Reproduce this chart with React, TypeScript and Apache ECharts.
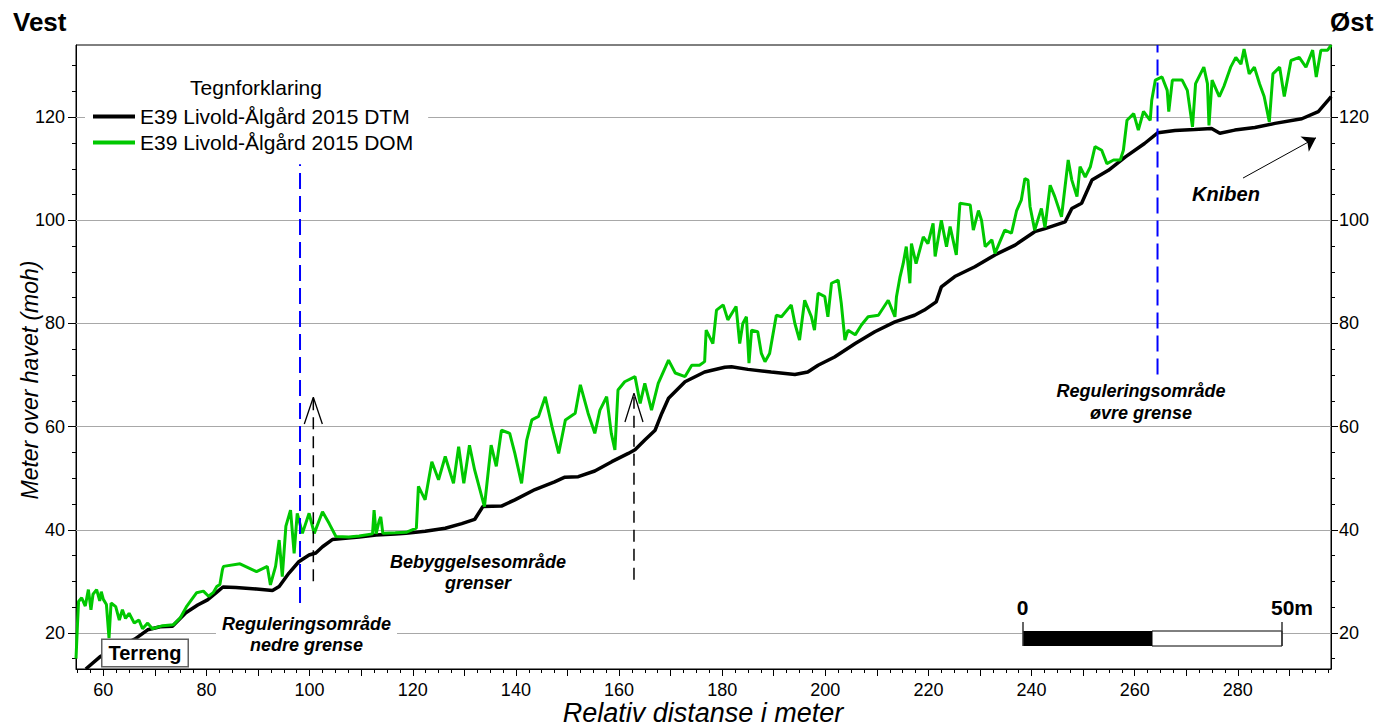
import React, { useEffect, useRef } from "react";
import * as echarts from "echarts";

const FONT = '"Liberation Sans", Arial, Helvetica, sans-serif';

// Axis ranges and ticks
const xMin = 54.7;
const xMax = 298.06;
const yMin = 13;
const yMax = 134;
const xLabelValues = [60, 80, 100, 120, 140, 160, 180, 200, 220, 240, 260, 280];
const xMajorTicks = [60, 70, 80, 90, 100, 110, 120, 130, 140, 150, 160, 170, 180, 190, 200, 210, 220, 230, 240, 250, 260, 270, 280, 290];
const yLabelValues = [20, 40, 60, 80, 100, 120];
const yMinorTicks = [15, 20, 25, 30, 35, 40, 45, 50, 55, 60, 65, 70, 75, 80, 85, 90, 95, 100, 105, 110, 115, 120, 125, 130];
const xMinorTicks: number[] = [];
for (let v = 55; v <= 297.5; v += 2.5) xMinorTicks.push(v);

const dtmName = "E39 Livold-Ålgård 2015 DTM";
const domName = "E39 Livold-Ålgård 2015 DOM";

// Terrain model (DTM): [distance, height]
const dtmData: [number, number][] = [
  [56.6, 13.0], [59.4, 15.4], [62.7, 17.1], [66.1, 18.8], [68.6, 20.6], [71.0, 21.2], [73.4, 21.3],
  [76.0, 23.9], [78.3, 25.4], [80.2, 26.4], [81.9, 27.8], [83.2, 28.9], [85.7, 28.8], [89.7, 28.5],
  [92.8, 28.2], [94.1, 29.0], [96.0, 31.6], [97.9, 33.8], [99.9, 35.1], [101.2, 35.5], [102.5, 36.7],
  [104.4, 38.1], [106.4, 38.3], [109.6, 38.6], [112.9, 39.0], [116.6, 39.2], [118.7, 39.3], [122.4, 39.7],
  [126.3, 40.3], [129.5, 41.2], [132.0, 42.0], [133.6, 44.5], [137.2, 44.6], [139.8, 45.8], [143.7, 47.8],
  [147.5, 49.3], [149.5, 50.2], [152.1, 50.3], [155.3, 51.4], [158.6, 53.2], [161.8, 54.8], [163.1, 55.5],
  [165.0, 57.4], [167.0, 59.3], [168.3, 62.6], [169.6, 65.5], [172.8, 68.7], [176.6, 70.6], [180.5, 71.5],
  [181.8, 71.6], [185.0, 71.1], [189.5, 70.6], [194.1, 70.1], [196.6, 70.6], [198.6, 71.9], [201.8, 73.5],
  [205.8, 76.1], [209.6, 78.4], [213.5, 80.3], [217.3, 81.6], [219.2, 82.6], [221.5, 84.2], [222.5, 87.1],
  [225.1, 89.1], [229.0, 91.0], [232.9, 93.3], [236.8, 95.2], [240.6, 97.8], [242.6, 98.4], [246.5, 99.7],
  [247.8, 102.3], [249.7, 103.3], [251.7, 107.8], [254.9, 109.7], [258.2, 112.3], [261.9, 114.9],
  [264.5, 117.0], [267.8, 117.4], [271.6, 117.6], [274.9, 117.8], [276.5, 116.9], [279.4, 117.5],
  [283.3, 118.0], [287.2, 118.8], [292.4, 119.7], [295.6, 121.1], [297.6, 123.4], [298.1, 124.0],
];

// Surface model (DOM): [distance, height]
const domData: [number, number][] = [
  [54.7, 15.0], [55.0, 22.0], [55.2, 26.1], [55.8, 26.8], [56.5, 25.2], [57.1, 28.4], [57.6, 24.5],
  [58.0, 27.5], [58.7, 28.4], [59.3, 26.2], [59.6, 28.0], [60.0, 26.5], [60.6, 25.5], [61.1, 19.0],
  [61.5, 25.8], [62.4, 25.1], [63.1, 22.5], [63.7, 24.5], [64.3, 22.8], [65.0, 23.8], [66.0, 21.9],
  [66.9, 22.5], [67.6, 20.8], [68.6, 21.9], [69.5, 20.8], [71.5, 21.4], [73.6, 21.6], [74.9, 22.9],
  [76.2, 25.2], [78.1, 27.8], [79.4, 28.1], [80.4, 27.1], [81.3, 27.8], [82.0, 29.0], [82.6, 29.4],
  [83.1, 32.3], [83.3, 32.9], [86.5, 33.4], [89.7, 31.9], [91.8, 32.9], [92.4, 29.3], [93.4, 32.9],
  [94.1, 38.0], [94.7, 30.9], [95.4, 40.7], [96.3, 43.8], [97.0, 35.4], [97.6, 43.2], [98.6, 39.3],
  [99.9, 43.2], [100.9, 39.3], [102.5, 43.5], [103.8, 41.2], [105.1, 38.7], [107.6, 38.6], [109.6, 38.8],
  [112.2, 39.2], [112.5, 43.8], [112.9, 39.2], [113.5, 41.8], [113.8, 42.5], [114.2, 39.3], [116.6, 39.4],
  [118.7, 39.5], [120.7, 40.3], [121.1, 48.4], [122.4, 45.8], [123.7, 53.2], [125.0, 49.7], [126.3, 54.2],
  [127.9, 49.0], [128.9, 56.1], [129.9, 49.0], [131.0, 56.4], [132.0, 51.6], [133.9, 44.5], [135.2, 56.4],
  [136.2, 52.3], [137.2, 59.3], [138.8, 58.7], [139.8, 54.8], [141.1, 49.0], [142.1, 57.4], [143.1, 61.3],
  [144.4, 62.0], [145.7, 65.8], [147.0, 60.0], [148.3, 54.8], [149.6, 61.3], [151.5, 62.6], [152.5, 68.1],
  [154.0, 62.6], [155.3, 58.7], [156.3, 63.2], [157.6, 65.8], [158.5, 58.7], [159.2, 55.5], [159.8, 67.1],
  [161.1, 68.7], [163.1, 69.7], [164.1, 64.5], [165.0, 68.4], [166.3, 63.2], [167.6, 68.4], [169.6, 72.9],
  [170.9, 70.4], [172.8, 69.7], [174.1, 71.9], [175.6, 71.9], [176.6, 72.6], [176.9, 78.7], [178.2, 76.1],
  [178.9, 82.6], [180.2, 83.6], [181.1, 80.7], [182.7, 83.3], [183.4, 76.1], [184.0, 80.0], [184.7, 81.3],
  [185.2, 72.3], [185.7, 78.7], [186.9, 78.4], [187.6, 74.2], [188.3, 72.6], [189.2, 74.2], [190.5, 81.6],
  [191.5, 81.3], [193.4, 83.6], [194.1, 80.0], [195.0, 76.8], [196.0, 84.5], [197.3, 81.3], [197.9, 78.7],
  [198.6, 85.9], [199.9, 85.2], [200.5, 81.3], [201.2, 87.8], [202.5, 88.4], [203.1, 83.9], [203.8, 76.8],
  [204.4, 78.7], [205.8, 77.8], [207.0, 79.7], [208.3, 81.3], [210.3, 81.6], [212.2, 84.5], [213.5, 81.3],
  [213.8, 85.2], [214.5, 89.1], [215.1, 91.6], [215.7, 94.9], [216.4, 87.8], [216.7, 95.5], [217.6, 91.6],
  [219.0, 96.8], [219.9, 95.5], [220.9, 99.4], [221.3, 93.0], [222.5, 100.0], [223.5, 94.9], [224.2, 98.8],
  [225.4, 93.3], [226.1, 103.3], [228.1, 103.0], [228.7, 98.1], [229.7, 101.9], [230.3, 100.0], [231.0, 94.9],
  [232.3, 96.2], [232.9, 93.6], [234.8, 98.1], [236.1, 97.5], [237.1, 101.9], [238.0, 103.9], [238.7, 108.1],
  [239.3, 107.8], [239.7, 102.7], [240.6, 98.1], [241.9, 102.3], [242.6, 98.6], [243.6, 106.8], [244.5, 104.6],
  [245.8, 100.7], [247.1, 111.7], [247.8, 107.8], [248.8, 104.6], [249.4, 110.4], [250.4, 108.4], [251.4, 110.4],
  [252.3, 114.3], [253.6, 113.6], [254.6, 111.0], [255.9, 111.7], [257.2, 111.7], [257.8, 113.6], [258.5, 119.4],
  [259.8, 120.7], [260.7, 117.5], [261.7, 121.1], [263.0, 119.4], [263.3, 123.3], [264.0, 127.2], [265.3, 127.8],
  [266.3, 125.2], [266.6, 121.1], [267.3, 127.2], [269.2, 127.2], [270.2, 125.2], [271.2, 118.1], [271.8, 126.5],
  [273.4, 129.7], [274.1, 126.5], [274.4, 118.4], [275.0, 127.2], [276.4, 124.0], [277.3, 126.0], [278.6, 129.7],
  [279.6, 131.6], [280.6, 130.3], [281.2, 133.2], [282.2, 128.4], [283.2, 129.7], [284.2, 126.5], [285.1, 124.0],
  [286.1, 119.1], [286.8, 128.4], [288.1, 129.7], [289.0, 124.0], [290.3, 131.0], [291.9, 131.6], [293.2, 129.7],
  [294.5, 133.0], [295.2, 127.8], [296.1, 133.0], [297.4, 133.0], [298.1, 134.0],
];

// Annotation lines in data coordinates
const blueLineLower: [number, number][] = [[98.14, 25.8], [98.14, 110.9]];
const blueLineUpper: [number, number][] = [[264.42, 70.1], [264.42, 134]];
const arrowShaft1: [number, number][] = [[100.72, 30.0], [100.72, 65.7]];
const arrowHead1: [number, number][] = [[98.97, 60.5], [100.72, 65.7], [102.47, 60.5]];
const arrowShaft2: [number, number][] = [[162.9, 30.3], [162.9, 66.5]];
const arrowHead2: [number, number][] = [[161.15, 60.9], [162.9, 66.5], [164.65, 60.9]];
const knibenArrow: [number, number][] = [[281.0, 108.2], [295.15, 116.0]];

function txt(text: string, x: number, y: number, size: number, opts: any = {}) {
  const align = opts.align || "center";
  return {
    type: "text",
    x,
    y,
    z: 100,
    rotation: opts.rotation || 0,
    style: {
      text,
      fontSize: size,
      fontWeight: opts.bold ? "bold" : "normal",
      fontStyle: opts.italic ? "italic" : "normal",
      fontFamily: FONT,
      fill: "#000",
      align,
      textAlign: align,
      verticalAlign: "middle",
      textVerticalAlign: "middle",
      lineHeight: opts.lineHeight,
      backgroundColor: opts.bg,
      padding: opts.padding,
      borderColor: opts.borderColor,
      borderWidth: opts.borderWidth,
    },
  };
}

export default function App() {
  const ref = useRef<HTMLDivElement>(null);
  useEffect(() => {
    if (!ref.current) return;
    const chart = echarts.init(ref.current, null, { renderer: "svg" });
    const axisLabelStyle = { fontSize: 18, color: "#000", fontFamily: FONT };
    const option: any = {
      animation: false,
      backgroundColor: "#fff",
      grid: { left: 76, right: 58, top: 45, bottom: 58, show: true, borderColor: "#000", borderWidth: 1 },
      legend: {
        orient: "vertical",
        left: 85,
        top: 106,
        z: 20,
        padding: [0, 15, 0, 8],
        itemGap: 5,
        itemWidth: 42,
        itemHeight: 4,
        icon: "rect",
        backgroundColor: "#fff",
        textStyle: { fontSize: 21, color: "#000", fontFamily: FONT },
        data: [dtmName, domName],
      },
      xAxis: [
        {
          type: "value", min: xMin, max: xMax, position: "bottom",
          axisLine: { show: true, lineStyle: { color: "#000", width: 1 } },
          axisTick: { show: true, length: 7, lineStyle: { color: "#000" }, customValues: xMajorTicks },
          axisLabel: { ...axisLabelStyle, margin: 12, customValues: xLabelValues },
          splitLine: { show: false },
        },
        {
          type: "value", min: xMin, max: xMax, position: "bottom",
          axisLine: { show: false },
          axisTick: { show: true, length: 4, lineStyle: { color: "#000" }, customValues: xMinorTicks },
          axisLabel: { show: false },
          splitLine: { show: false },
        },
      ],
      yAxis: [
        {
          type: "value", min: yMin, max: yMax, position: "left",
          axisLine: { show: true, lineStyle: { color: "#000", width: 1 } },
          axisTick: { show: true, length: 8, lineStyle: { color: "#000" }, customValues: yLabelValues },
          axisLabel: { ...axisLabelStyle, margin: 11, customValues: yLabelValues },
          splitLine: { show: false },
        },
        {
          type: "value", min: yMin, max: yMax, position: "left",
          axisLine: { show: false },
          axisTick: { show: true, length: 4, lineStyle: { color: "#000" }, customValues: yMinorTicks },
          axisLabel: { show: false },
          splitLine: { show: false },
        },
        {
          type: "value", min: yMin, max: yMax, position: "right",
          axisLine: { show: true, lineStyle: { color: "#000", width: 1 } },
          axisTick: { show: true, length: 7, lineStyle: { color: "#000" }, customValues: yLabelValues },
          axisLabel: { ...axisLabelStyle, margin: 8, customValues: yLabelValues },
          splitLine: { show: false },
        },
        {
          type: "value", min: yMin, max: yMax, position: "right",
          axisLine: { show: false },
          axisTick: { show: true, length: 4, lineStyle: { color: "#000" }, customValues: yMinorTicks },
          axisLabel: { show: false },
          splitLine: { show: false },
        },
      ],
      series: [
        {
          name: "gridlines", type: "line", data: [], z: 1, silent: true,
          markLine: {
            z: 1,
            silent: true, symbol: ["none", "none"], label: { show: false },
            lineStyle: { color: "#a8a8a8", width: 1, type: "solid" },
            data: yLabelValues.map((v) => ({ yAxis: v })),
          },
        },
        {
          name: dtmName, type: "line", data: dtmData, showSymbol: false, symbol: "none", z: 3,
          lineStyle: { color: "#000", width: 3.5 }, itemStyle: { color: "#000" },
        },
        {
          name: domName, type: "line", data: domData, showSymbol: false, symbol: "none", z: 4,
          lineStyle: { color: "#00c800", width: 3 }, itemStyle: { color: "#00c800" },
        },
        { name: "blue1", type: "line", data: blueLineLower, symbol: "none", z: 5, silent: true,
          lineStyle: { color: "#0000ff", width: 2, type: [16, 7] } },
        { name: "blue2", type: "line", data: blueLineUpper, symbol: "none", z: 5, silent: true,
          lineStyle: { color: "#0000ff", width: 2, type: [16, 7] } },
        { name: "shaft1", type: "line", data: arrowShaft1, symbol: "none", z: 5, silent: true,
          lineStyle: { color: "#000", width: 1.5, type: [12, 7] } },
        { name: "head1", type: "line", data: arrowHead1, symbol: "none", z: 5, silent: true,
          lineStyle: { color: "#000", width: 1.3 } },
        { name: "shaft2", type: "line", data: arrowShaft2, symbol: "none", z: 5, silent: true,
          lineStyle: { color: "#000", width: 1.5, type: [12, 7] } },
        { name: "head2", type: "line", data: arrowHead2, symbol: "none", z: 5, silent: true,
          lineStyle: { color: "#000", width: 1.3 } },
        {
          name: "kniben", type: "line", data: [], z: 5, silent: true,
          markLine: {
            z: 6,
            silent: true, symbol: ["none", "arrow"], symbolSize: 13, label: { show: false },
            lineStyle: { color: "#000", width: 1, type: "solid" },
            itemStyle: { color: "#000" },
            data: [[{ coord: knibenArrow[0] }, { coord: knibenArrow[1] }]],
          },
        },
      ],
      graphic: [
        txt("Vest", 13, 21.5, 26, { bold: true, align: "left" }),
        txt("Øst", 1330, 21.5, 26, { bold: true, align: "left" }),
        txt("Tegnforklaring", 256, 87, 21),
        txt("Meter over havet (moh)", 30, 380, 23, { italic: true, rotation: Math.PI / 2 }),
        txt("Relativ distanse i meter", 703, 713, 27, { italic: true }),
        txt("Reguleringsområde\nnedre grense", 306.5, 634.5, 18, { bold: true, italic: true, lineHeight: 21, bg: "#fff", padding: [0, 6] }),
        txt("Bebyggelsesområde\ngrenser", 478, 572.5, 18, { bold: true, italic: true, lineHeight: 21 }),
        txt("Reguleringsområde\nøvre grense", 1141, 402, 18, { bold: true, italic: true, lineHeight: 22 }),
        txt("Kniben", 1226, 194, 20, { bold: true, italic: true }),
        txt("Terreng", 145, 653, 20, { bold: true, bg: "#fff", padding: [3, 6], borderColor: "#606060", borderWidth: 1.5 }),
        { type: "rect", z: 100, shape: { x: 1023, y: 631, width: 129, height: 15 }, style: { fill: "#000" } },
        { type: "rect", z: 100, shape: { x: 1152, y: 631, width: 130, height: 15 }, style: { fill: "#fff", stroke: "#000", lineWidth: 1 } },
        { type: "line", z: 101, shape: { x1: 1023, y1: 622, x2: 1023, y2: 646 }, style: { stroke: "#333", lineWidth: 1.5 } },
        { type: "line", z: 101, shape: { x1: 1282, y1: 622, x2: 1282, y2: 646 }, style: { stroke: "#333", lineWidth: 1.5 } },
        txt("0", 1022.7, 607.5, 21, { bold: true }),
        txt("50m", 1292, 607.5, 21, { bold: true }),
      ],
    };
    chart.setOption(option);
    return () => chart.dispose();
  }, []);
  return (
    <div
      ref={ref}
      style={{ position: "fixed", left: 0, top: 0, width: 1389, height: 727, background: "#fff" }}
    />
  );
}
